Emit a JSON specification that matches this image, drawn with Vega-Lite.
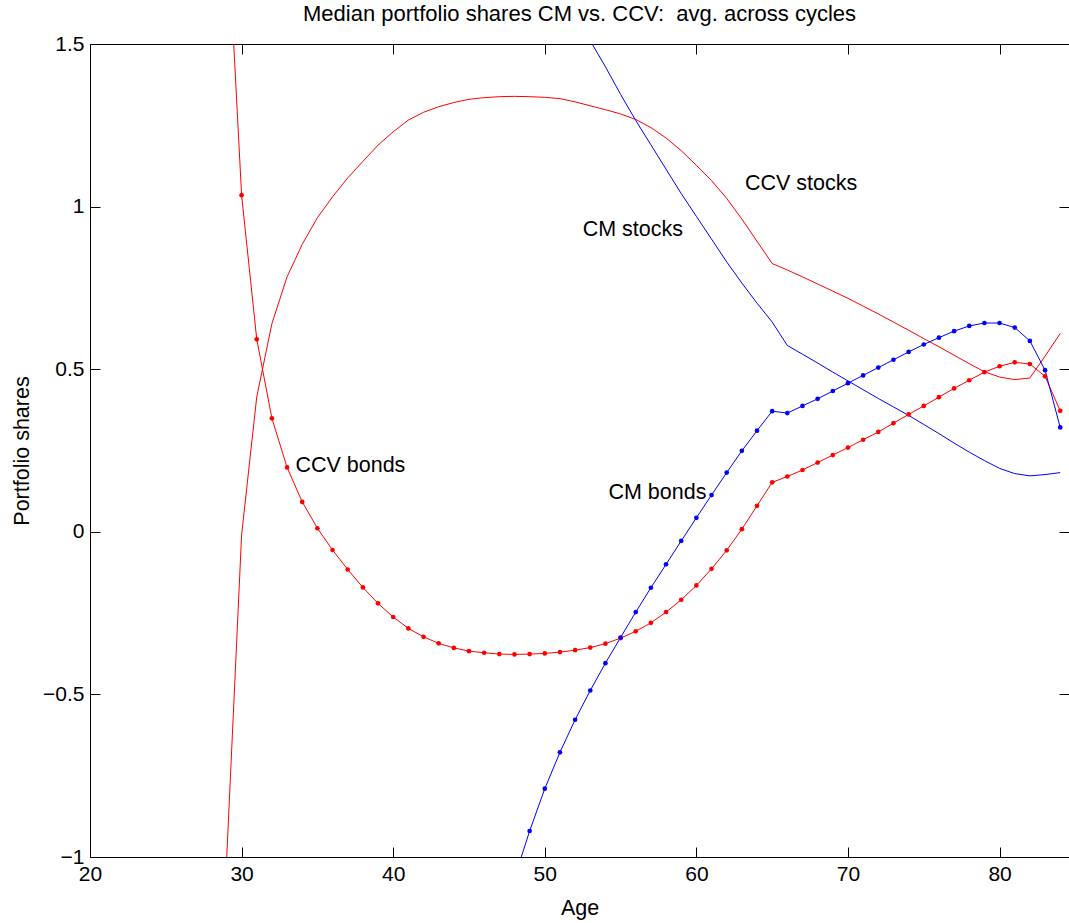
{
  "$schema": "https://vega.github.io/schema/vega-lite/v6.json",
  "autosize": {"type": "none"},
  "padding": {"left": 90, "top": 44, "right": 0, "bottom": 66},
  "width": 979,
  "height": 813,
  "background": "white",
  "config": {
    "view": {"stroke": null},
    "font": "Liberation Sans",
    "axis": {"grid": false, "domainColor": "black", "tickColor": "black", "labelColor": "black", "titleColor": "black", "labelFont": "Liberation Sans", "titleFont": "Liberation Sans", "labelFontSize": 21, "titleFontSize": 21.5, "titleFontWeight": "normal", "domainWidth": 1, "tickWidth": 1}
  },
  "title": {"text": "Median portfolio shares CM vs. CCV:\u00a0 avg. across cycles", "fontSize": 22, "fontWeight": "normal", "font": "Liberation Sans", "color": "black", "offset": 7, "anchor": "middle"},
  "datasets": {
    "series": [
      {"age": 29, "series": "CCV bonds", "value": 1.93},
      {"age": 30, "series": "CCV bonds", "value": 1.035},
      {"age": 31, "series": "CCV bonds", "value": 0.592},
      {"age": 32, "series": "CCV bonds", "value": 0.349},
      {"age": 33, "series": "CCV bonds", "value": 0.198},
      {"age": 34, "series": "CCV bonds", "value": 0.092},
      {"age": 35, "series": "CCV bonds", "value": 0.011},
      {"age": 36, "series": "CCV bonds", "value": -0.056},
      {"age": 37, "series": "CCV bonds", "value": -0.116},
      {"age": 38, "series": "CCV bonds", "value": -0.171},
      {"age": 39, "series": "CCV bonds", "value": -0.22},
      {"age": 40, "series": "CCV bonds", "value": -0.262},
      {"age": 41, "series": "CCV bonds", "value": -0.297},
      {"age": 42, "series": "CCV bonds", "value": -0.323},
      {"age": 43, "series": "CCV bonds", "value": -0.343},
      {"age": 44, "series": "CCV bonds", "value": -0.357},
      {"age": 45, "series": "CCV bonds", "value": -0.367},
      {"age": 46, "series": "CCV bonds", "value": -0.372},
      {"age": 47, "series": "CCV bonds", "value": -0.376},
      {"age": 48, "series": "CCV bonds", "value": -0.377},
      {"age": 49, "series": "CCV bonds", "value": -0.376},
      {"age": 50, "series": "CCV bonds", "value": -0.374},
      {"age": 51, "series": "CCV bonds", "value": -0.37},
      {"age": 52, "series": "CCV bonds", "value": -0.364},
      {"age": 53, "series": "CCV bonds", "value": -0.356},
      {"age": 54, "series": "CCV bonds", "value": -0.344},
      {"age": 55, "series": "CCV bonds", "value": -0.327},
      {"age": 56, "series": "CCV bonds", "value": -0.306},
      {"age": 57, "series": "CCV bonds", "value": -0.28},
      {"age": 58, "series": "CCV bonds", "value": -0.247},
      {"age": 59, "series": "CCV bonds", "value": -0.209},
      {"age": 60, "series": "CCV bonds", "value": -0.165},
      {"age": 61, "series": "CCV bonds", "value": -0.114},
      {"age": 62, "series": "CCV bonds", "value": -0.057},
      {"age": 63, "series": "CCV bonds", "value": 0.008},
      {"age": 64, "series": "CCV bonds", "value": 0.08},
      {"age": 65, "series": "CCV bonds", "value": 0.152},
      {"age": 66, "series": "CCV bonds", "value": 0.17},
      {"age": 67, "series": "CCV bonds", "value": 0.19},
      {"age": 68, "series": "CCV bonds", "value": 0.213},
      {"age": 69, "series": "CCV bonds", "value": 0.236},
      {"age": 70, "series": "CCV bonds", "value": 0.259},
      {"age": 71, "series": "CCV bonds", "value": 0.283},
      {"age": 72, "series": "CCV bonds", "value": 0.307},
      {"age": 73, "series": "CCV bonds", "value": 0.334},
      {"age": 74, "series": "CCV bonds", "value": 0.361},
      {"age": 75, "series": "CCV bonds", "value": 0.387},
      {"age": 76, "series": "CCV bonds", "value": 0.414},
      {"age": 77, "series": "CCV bonds", "value": 0.441},
      {"age": 78, "series": "CCV bonds", "value": 0.466},
      {"age": 79, "series": "CCV bonds", "value": 0.491},
      {"age": 80, "series": "CCV bonds", "value": 0.509},
      {"age": 81, "series": "CCV bonds", "value": 0.521},
      {"age": 82, "series": "CCV bonds", "value": 0.516},
      {"age": 83, "series": "CCV bonds", "value": 0.478},
      {"age": 84, "series": "CCV bonds", "value": 0.372},
      {"age": 29, "series": "CCV stocks", "value": -1.02},
      {"age": 30, "series": "CCV stocks", "value": -0.01},
      {"age": 31, "series": "CCV stocks", "value": 0.415},
      {"age": 32, "series": "CCV stocks", "value": 0.64},
      {"age": 33, "series": "CCV stocks", "value": 0.784},
      {"age": 34, "series": "CCV stocks", "value": 0.884},
      {"age": 35, "series": "CCV stocks", "value": 0.966},
      {"age": 36, "series": "CCV stocks", "value": 1.03},
      {"age": 37, "series": "CCV stocks", "value": 1.088},
      {"age": 38, "series": "CCV stocks", "value": 1.139},
      {"age": 39, "series": "CCV stocks", "value": 1.189},
      {"age": 40, "series": "CCV stocks", "value": 1.23},
      {"age": 41, "series": "CCV stocks", "value": 1.266},
      {"age": 42, "series": "CCV stocks", "value": 1.29},
      {"age": 43, "series": "CCV stocks", "value": 1.307},
      {"age": 44, "series": "CCV stocks", "value": 1.32},
      {"age": 45, "series": "CCV stocks", "value": 1.33},
      {"age": 46, "series": "CCV stocks", "value": 1.335},
      {"age": 47, "series": "CCV stocks", "value": 1.338},
      {"age": 48, "series": "CCV stocks", "value": 1.339},
      {"age": 49, "series": "CCV stocks", "value": 1.338},
      {"age": 50, "series": "CCV stocks", "value": 1.336},
      {"age": 51, "series": "CCV stocks", "value": 1.332},
      {"age": 52, "series": "CCV stocks", "value": 1.322},
      {"age": 53, "series": "CCV stocks", "value": 1.31},
      {"age": 54, "series": "CCV stocks", "value": 1.298},
      {"age": 55, "series": "CCV stocks", "value": 1.285},
      {"age": 56, "series": "CCV stocks", "value": 1.268},
      {"age": 57, "series": "CCV stocks", "value": 1.243},
      {"age": 58, "series": "CCV stocks", "value": 1.211},
      {"age": 59, "series": "CCV stocks", "value": 1.172},
      {"age": 60, "series": "CCV stocks", "value": 1.127},
      {"age": 61, "series": "CCV stocks", "value": 1.08},
      {"age": 62, "series": "CCV stocks", "value": 1.025},
      {"age": 63, "series": "CCV stocks", "value": 0.962},
      {"age": 64, "series": "CCV stocks", "value": 0.893},
      {"age": 65, "series": "CCV stocks", "value": 0.825},
      {"age": 66, "series": "CCV stocks", "value": 0.805},
      {"age": 67, "series": "CCV stocks", "value": 0.784},
      {"age": 68, "series": "CCV stocks", "value": 0.762},
      {"age": 69, "series": "CCV stocks", "value": 0.74},
      {"age": 70, "series": "CCV stocks", "value": 0.718},
      {"age": 71, "series": "CCV stocks", "value": 0.694},
      {"age": 72, "series": "CCV stocks", "value": 0.67},
      {"age": 73, "series": "CCV stocks", "value": 0.645},
      {"age": 74, "series": "CCV stocks", "value": 0.62},
      {"age": 75, "series": "CCV stocks", "value": 0.594},
      {"age": 76, "series": "CCV stocks", "value": 0.569},
      {"age": 77, "series": "CCV stocks", "value": 0.543},
      {"age": 78, "series": "CCV stocks", "value": 0.517},
      {"age": 79, "series": "CCV stocks", "value": 0.492},
      {"age": 80, "series": "CCV stocks", "value": 0.476},
      {"age": 81, "series": "CCV stocks", "value": 0.468},
      {"age": 82, "series": "CCV stocks", "value": 0.473},
      {"age": 83, "series": "CCV stocks", "value": 0.54},
      {"age": 84, "series": "CCV stocks", "value": 0.61},
      {"age": 47, "series": "CM bonds", "value": -1.23},
      {"age": 48, "series": "CM bonds", "value": -1.065},
      {"age": 49, "series": "CM bonds", "value": -0.92},
      {"age": 50, "series": "CM bonds", "value": -0.79},
      {"age": 51, "series": "CM bonds", "value": -0.678},
      {"age": 52, "series": "CM bonds", "value": -0.578},
      {"age": 53, "series": "CM bonds", "value": -0.488},
      {"age": 54, "series": "CM bonds", "value": -0.404},
      {"age": 55, "series": "CM bonds", "value": -0.325},
      {"age": 56, "series": "CM bonds", "value": -0.247},
      {"age": 57, "series": "CM bonds", "value": -0.172},
      {"age": 58, "series": "CM bonds", "value": -0.1},
      {"age": 59, "series": "CM bonds", "value": -0.028},
      {"age": 60, "series": "CM bonds", "value": 0.043},
      {"age": 61, "series": "CM bonds", "value": 0.113},
      {"age": 62, "series": "CM bonds", "value": 0.182},
      {"age": 63, "series": "CM bonds", "value": 0.249},
      {"age": 64, "series": "CM bonds", "value": 0.311},
      {"age": 65, "series": "CM bonds", "value": 0.371},
      {"age": 66, "series": "CM bonds", "value": 0.365},
      {"age": 67, "series": "CM bonds", "value": 0.387},
      {"age": 68, "series": "CM bonds", "value": 0.409},
      {"age": 69, "series": "CM bonds", "value": 0.433},
      {"age": 70, "series": "CM bonds", "value": 0.457},
      {"age": 71, "series": "CM bonds", "value": 0.481},
      {"age": 72, "series": "CM bonds", "value": 0.505},
      {"age": 73, "series": "CM bonds", "value": 0.529},
      {"age": 74, "series": "CM bonds", "value": 0.553},
      {"age": 75, "series": "CM bonds", "value": 0.576},
      {"age": 76, "series": "CM bonds", "value": 0.597},
      {"age": 77, "series": "CM bonds", "value": 0.617},
      {"age": 78, "series": "CM bonds", "value": 0.633},
      {"age": 79, "series": "CM bonds", "value": 0.642},
      {"age": 80, "series": "CM bonds", "value": 0.642},
      {"age": 81, "series": "CM bonds", "value": 0.628},
      {"age": 82, "series": "CM bonds", "value": 0.587},
      {"age": 83, "series": "CM bonds", "value": 0.497},
      {"age": 84, "series": "CM bonds", "value": 0.321},
      {"age": 50, "series": "CM stocks", "value": 1.77},
      {"age": 51, "series": "CM stocks", "value": 1.685},
      {"age": 52, "series": "CM stocks", "value": 1.6},
      {"age": 53, "series": "CM stocks", "value": 1.51},
      {"age": 54, "series": "CM stocks", "value": 1.43},
      {"age": 55, "series": "CM stocks", "value": 1.345},
      {"age": 56, "series": "CM stocks", "value": 1.265},
      {"age": 57, "series": "CM stocks", "value": 1.19},
      {"age": 58, "series": "CM stocks", "value": 1.115},
      {"age": 59, "series": "CM stocks", "value": 1.04},
      {"age": 60, "series": "CM stocks", "value": 0.97},
      {"age": 61, "series": "CM stocks", "value": 0.9},
      {"age": 62, "series": "CM stocks", "value": 0.83},
      {"age": 63, "series": "CM stocks", "value": 0.765},
      {"age": 64, "series": "CM stocks", "value": 0.703},
      {"age": 65, "series": "CM stocks", "value": 0.645},
      {"age": 66, "series": "CM stocks", "value": 0.573},
      {"age": 67, "series": "CM stocks", "value": 0.546},
      {"age": 68, "series": "CM stocks", "value": 0.519},
      {"age": 69, "series": "CM stocks", "value": 0.491},
      {"age": 70, "series": "CM stocks", "value": 0.464},
      {"age": 71, "series": "CM stocks", "value": 0.437},
      {"age": 72, "series": "CM stocks", "value": 0.41},
      {"age": 73, "series": "CM stocks", "value": 0.384},
      {"age": 74, "series": "CM stocks", "value": 0.358},
      {"age": 75, "series": "CM stocks", "value": 0.33},
      {"age": 76, "series": "CM stocks", "value": 0.302},
      {"age": 77, "series": "CM stocks", "value": 0.273},
      {"age": 78, "series": "CM stocks", "value": 0.245},
      {"age": 79, "series": "CM stocks", "value": 0.219},
      {"age": 80, "series": "CM stocks", "value": 0.195},
      {"age": 81, "series": "CM stocks", "value": 0.179},
      {"age": 82, "series": "CM stocks", "value": 0.172},
      {"age": 83, "series": "CM stocks", "value": 0.176},
      {"age": 84, "series": "CM stocks", "value": 0.182}
    ],
    "labels": [
      {"age": 63.2, "value": 1.069, "label": "CCV stocks"},
      {"age": 52.5, "value": 0.927, "label": "CM stocks"},
      {"age": 33.55, "value": 0.202, "label": "CCV bonds"},
      {"age": 54.2, "value": 0.119, "label": "CM bonds"}
    ]
  },
  "resolve": {"axis": {"x": "independent", "y": "independent"}},
  "layer": [
    {
      "data": {"name": "series"},
      "mark": {"type": "line", "strokeWidth": 1, "clip": true, "interpolate": "linear"},
      "encoding": {
        "x": {"field": "age", "type": "quantitative", "scale": {"domain": [20, 84.58], "nice": false, "zero": false},
          "axis": {"orient": "bottom", "values": [20, 30, 40, 50, 60, 70, 80], "title": "Age", "tickSize": -10, "labelPadding": 16, "titlePadding": 13, "labelFlush": false, "labelOverlap": false}},
        "y": {"field": "value", "type": "quantitative", "scale": {"domain": [-1, 1.5], "nice": false, "zero": false},
          "axis": {"orient": "left", "values": [-1, -0.5, 0, 0.5, 1, 1.5], "format": "~g", "title": "Portfolio shares", "tickSize": -10, "labelPadding": 16, "titlePadding": 9, "labelFlush": false, "labelOverlap": false}},
        "color": {"field": "series", "type": "nominal", "scale": {"domain": ["CCV bonds", "CCV stocks", "CM bonds", "CM stocks"], "range": ["#ff0000", "#ff0000", "#0000ff", "#0000ff"]}, "legend": null}
      }
    },
    {
      "data": {"name": "series"},
      "transform": [{"filter": "datum.series == 'CCV bonds' || datum.series == 'CM bonds'"}],
      "mark": {"type": "point", "filled": true, "size": 22, "opacity": 1, "clip": true},
      "encoding": {
        "x": {"field": "age", "type": "quantitative",
          "axis": {"orient": "top", "values": [20, 30, 40, 50, 60, 70, 80], "labels": false, "title": null, "tickSize": -10}},
        "y": {"field": "value", "type": "quantitative",
          "axis": {"orient": "right", "values": [-1, -0.5, 0, 0.5, 1, 1.5], "labels": false, "title": null, "tickSize": -10, "domain": false}},
        "color": {"field": "series", "type": "nominal", "legend": null}
      }
    },
    {
      "data": {"name": "labels"},
      "mark": {"type": "text", "align": "left", "baseline": "middle", "fontSize": 21.5, "font": "Liberation Sans", "color": "black"},
      "encoding": {
        "x": {"field": "age", "type": "quantitative", "axis": null},
        "y": {"field": "value", "type": "quantitative", "axis": null},
        "text": {"field": "label"}
      }
    }
  ]
}
